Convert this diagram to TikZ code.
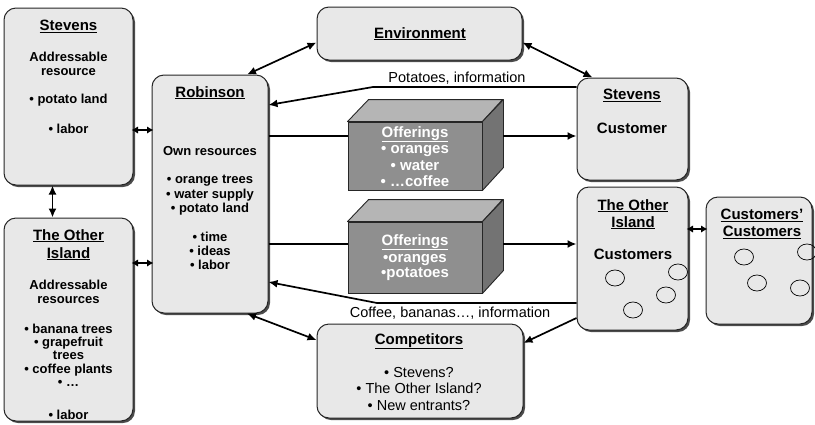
\documentclass[tikz,border=0pt]{standalone}
\usepackage{fontspec}
\setmainfont{Liberation Sans}
\usetikzlibrary{arrows.meta,shadows}
\definecolor{boxfill}{gray}{0.91}
\definecolor{cubefront}{gray}{0.56}
\definecolor{cubetop}{gray}{0.71}
\definecolor{cubeside}{gray}{0.45}
\newcommand{\hd}[1]{{\fontsize{15}{15}\selectfont\underline{#1}}}
\newcommand{\lrg}[1]{{\fontsize{15}{15}\selectfont #1}}
\tikzset{
  box/.style={draw=black!85, line width=1pt, fill=boxfill, rounded corners=12pt, inner sep=0pt,
    drop shadow={shadow xshift=2pt, shadow yshift=-2pt, fill=black!70, opacity=1}},
  boxtext/.style={anchor=north, align=center, inner sep=0pt, font=\bfseries\fontsize{13}{14}\selectfont},
  cube/.style={draw=black!85, line width=0.9pt, fill=cubefront, inner sep=0pt},
  cubetext/.style={anchor=north, align=center, inner sep=0pt, text=white, font=\bfseries\fontsize{15}{16.5}\selectfont},
  face/.style={draw=black!85, line width=0.9pt, line join=round},
  arr/.style={line width=1.7pt, -{Latex[length=9pt,width=8pt]}},
  dbl/.style={line width=1.7pt, {Latex[length=9pt,width=8pt]}-{Latex[length=9pt,width=8pt]}},
  dblshort/.style={line width=1.7pt, {Latex[length=6.5pt,width=7.5pt]}-{Latex[length=6.5pt,width=7.5pt]}, shorten <=-2pt, shorten >=-2pt},
  lbl/.style={anchor=base, inner sep=0pt, font=\fontsize{14.5}{16.5}\selectfont},
  cust/.style={line width=0.7pt}
}
\begin{document}
\begin{tikzpicture}[x=1pt,y=-1pt]
  \useasboundingbox (0,0) rectangle (815,424);
  % boxes
  \node[box, minimum width=129pt, minimum height=177pt] (stevensres) at (68.5,96.5) {};
  \node[box, minimum width=129pt, minimum height=203pt] (otherres) at (68.5,319.5) {};
  \node[box, minimum width=116pt, minimum height=238pt] (robinson) at (210,194) {};
  \node[box, minimum width=205pt, minimum height=53pt] (env) at (419.5,33.5) {};
  \node[box, minimum width=111pt, minimum height=102pt] (stevenscust) at (632.5,129) {};
  \node[box, minimum width=111pt, minimum height=143pt] (othercust) at (632.5,258.5) {};
  \node[box, minimum width=106pt, minimum height=127pt] (custcust) at (759,260.5) {};
  \node[box, minimum width=206pt, minimum height=94pt] (comp) at (420,371) {};
  % texts
  \node[boxtext] (stevensrestxt) at (68.5,20) {\hd{Stevens}\\[17pt]Addressable\\resource\\[14pt]• potato land\\[16pt]• labor};
  \node[boxtext] (otherrestxt) at (68.5,229) {\hd{The Other}\\[4pt]\hd{Island}\\[17pt]Addressable\\resources\\[16pt]• banana trees\\[-1pt]• grapefruit\\[-1pt]trees\\• coffee plants\\[-1pt]• …\\[19pt]• labor};
  \node[boxtext] (robinsontxt) at (210,86) {\hd{Robinson}\\[44pt]Own resources\\[14pt]• orange trees\\[1pt]• water supply\\• potato land\\[15pt]• time\\• ideas\\• labor};
  \node[boxtext] (envtxt) at (420,27) {\hd{Environment}};
  \node[boxtext] (stevenscusttxt) at (632,89) {\hd{Stevens}\\[20pt]\lrg{Customer}};
  \node[boxtext] (othercusttxt) at (633,199) {\hd{The Other}\\[3pt]\hd{Island}\\[18pt]\lrg{Customers}};
  \node[boxtext] (custcusttxt) at (762,209) {\hd{Customers’}\\[3pt]\hd{Customers}};
  \node[boxtext, font=\fontsize{14.5}{16.5}\selectfont] (comptxt) at (419,333) {{\bfseries\hd{Competitors}}\\[16.5pt]• Stevens?\\• The Other Island?\\• New entrants?};
  % customers
  \draw[cust] (615,278) ellipse [x radius=9.5pt, y radius=8pt];
  \draw[cust] (678,272) ellipse [x radius=9.5pt, y radius=8pt];
  \draw[cust] (666,295) ellipse [x radius=9.5pt, y radius=8pt];
  \draw[cust] (633,310) ellipse [x radius=9.5pt, y radius=8pt];
  \draw[cust] (744,257) ellipse [x radius=9.5pt, y radius=8pt];
  \draw[cust] (807,252) ellipse [x radius=9.5pt, y radius=8pt];
  \draw[cust] (757,283) ellipse [x radius=9.5pt, y radius=8pt];
  \draw[cust] (800,288) ellipse [x radius=9.5pt, y radius=8pt];
  % offerings
  \node[cube, minimum width=134pt, minimum height=68pt] (offer1) at (415,156) {};
  \draw[face, fill=cubetop] (offer1.north west) -- ++(21,-22) -- ++(134,0) -- (offer1.north east) -- cycle;
  \draw[face, fill=cubeside] (offer1.north east) -- ++(21,-22) -- ++(0,68) -- (offer1.south east) -- cycle;
  \coordinate (offer1side) at ([xshift=21pt]offer1.east);
  \node[cubetext] (offer1txt) at (415,126) {\underline{Offerings}\\[-0.5pt]• oranges\\[0.5pt]• water\\[-0.5pt]• …coffee};
  \node[cube, minimum width=134pt, minimum height=71pt] (offer2) at (415,257.5) {};
  \draw[face, fill=cubetop] (offer2.north west) -- ++(21,-22) -- ++(134,0) -- (offer2.north east) -- cycle;
  \draw[face, fill=cubeside] (offer2.north east) -- ++(21,-22) -- ++(0,71) -- (offer2.south east) -- cycle;
  \coordinate (offer2side) at ([xshift=21pt]offer2.east);
  \node[cubetext] (offer2txt) at (415,234) {\underline{Offerings}\\[0.5pt]•oranges\\[-1.5pt]•potatoes};
  % connectors
  \draw[dblshort] (stevensres.east |- 0,130) -- (robinson.west |- 0,130);
  \draw[dblshort] (otherres.east |- 0,263) -- (robinson.west |- 0,263);
  \draw[dbl] ([xshift=-16pt]stevensres.south) -- ([xshift=-16pt]otherres.north);
  \draw[dbl] ([xshift=37pt]robinson.north) -- ([yshift=-9pt]env.west);
  \draw[dbl] ([yshift=-9pt]env.east) -- ([xshift=-40pt]stevenscust.north);
  \draw[dbl] ([xshift=37pt]robinson.south) -- ([yshift=31pt]comp.west);
  \draw[dblshort] (othercust.east |- 0,229) -- (custcust.west |- 0,229);
  \coordinate (potbend) at (373,87);
  \draw[arr] (stevenscust.west |- 0,87) -- (potbend) -- (robinson.east |- 0,105);
  \node[lbl] (potlbl) at (457,82) {Potatoes, information};
  \coordinate (cofbend) at (377,303);
  \draw[arr] (othercust.west |- 0,303) -- (cofbend) -- (robinson.east |- 0,282);
  \node[lbl] (coflbl) at (450,317) {Coffee, bananas…, information};
  \draw[line width=1.7pt] (robinson.east |- 0,136) -- (offer1.west |- 0,136);
  \draw[arr] (offer1side |- 0,136) -- (stevenscust.west |- 0,136);
  \draw[line width=1.7pt] (robinson.east |- 0,244) -- (offer2.west |- 0,244);
  \draw[arr] (offer2side |- 0,244) -- (othercust.west |- 0,244);
  \draw[arr] (othercust.west |- 0,318) -- ([yshift=28pt]comp.east);
\end{tikzpicture}
\end{document}
